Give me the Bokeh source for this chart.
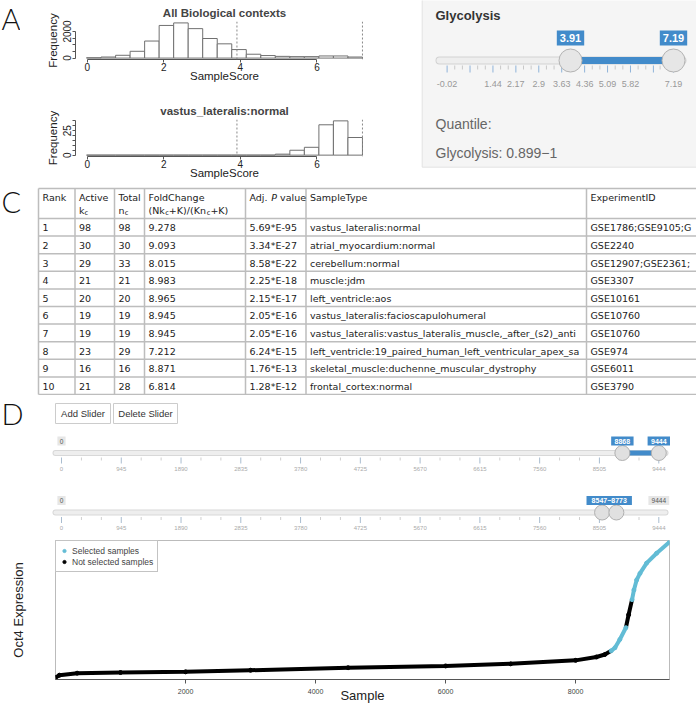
import re
import numpy as np
from bokeh.plotting import figure
from bokeh.models import Range1d, ColumnDataSource, Span, FixedTicker, Legend, LegendItem
from bokeh.layouts import row, column
from bokeh.embed import file_html
from bokeh.resources import INLINE
from bokeh.core.properties import value, field

# ======================= DATA =======================
# Panel A: SampleScore histograms
score_range = [-0.02, 7.19]
n_bins = 19
all_contexts_counts = [25, 80, 210, 510, 1280, 2450, 2640, 2210, 1470, 1070,
                       640, 290, 190, 130, 110, 110, 160, 160, 80]
vastus_counts = [0, 0, 0, 0, 0, 0, 0, 0, 0, 0, 0, 0, 0, 1, 5, 8, 31, 35, 18]
hist_titles = ["All Biological contexts", "vastus_lateralis:normal"]
score_xticks = [0, 2, 4, 6]
hist1_yticks = [0, 500, 1000, 1500, 2000]
hist1_ylabels = ["0", "", "", "", "2000"]
hist2_yticks = [0, 5, 10, 15, 20, 25, 30, 35]
hist2_ylabels = ["0", "", "", "", "", "25", "", ""]

# Panel B: pathway slider
pathway = "Glycolysis"
glyc_selection = [3.91, 7.19]
glyc_grid = [-0.02, 0.71, 1.44, 2.17, 2.9, 3.63, 4.36, 5.09, 5.82, 6.55, 7.19]
glyc_grid_labels = ["-0.02", "", "1.44", "2.17", "2.9", "3.63", "4.36", "5.09", "5.82", "", "7.19"]
quantile_range = ["0.899", "1"]

# Panel C: enrichment table
header_line1 = ["Rank", "Active", "Total", "FoldChange", "Adj. {i:P} value", "SampleType", "ExperimentID"]
header_line2 = ["", "k{s:c}", "n{s:c}", "(Nk{s:c}+K)/(Kn{s:c}+K)", "", "", ""]
rank = [1, 2, 3, 4, 5, 6, 7, 8, 9, 10]
active_kc = [98, 30, 29, 21, 20, 19, 19, 23, 16, 21]
total_nc = [98, 30, 33, 21, 20, 19, 19, 29, 16, 28]
fold_change = [9.278, 9.093, 8.015, 8.983, 8.965, 8.945, 8.945, 7.212, 8.871, 6.814]
adj_p = ["5.69*E-95", "3.34*E-27", "8.58*E-22", "2.25*E-18", "2.15*E-17",
         "2.05*E-16", "2.05*E-16", "6.24*E-15", "1.76*E-13", "1.28*E-12"]
sample_type = ["vastus_lateralis:normal", "atrial_myocardium:normal", "cerebellum:normal",
               "muscle:jdm", "left_ventricle:aos", "vastus_lateralis:facioscapulohumeral",
               "vastus_lateralis:vastus_lateralis_muscle,_after_(s2)_antib",
               "left_ventricle:19_paired_human_left_ventricular_apex_sam",
               "skeletal_muscle:duchenne_muscular_dystrophy", "frontal_cortex:normal"]
experiment_id = ["GSE1786;GSE9105;GSE", "GSE2240", "GSE12907;GSE2361;GSE", "GSE3307",
                 "GSE10161", "GSE10760", "GSE10760", "GSE974", "GSE6011", "GSE3790"]

# Panel D: sample sliders and Oct4 curve
buttons = ["Add Slider", "Delete Slider"]
n_samples = 9444
sample_grid = [0, 945, 1890, 2835, 3780, 4725, 5670, 6615, 7560, 8505, 9444]
slider_ranges = [[8868, 9444], [8547, 8773]]
curve_sample = [0, 60, 333, 1000, 2000, 3000, 4500, 6000, 7000, 8000, 8320, 8450,
                8547, 8605, 8680, 8773, 8815, 8868, 8897, 8939, 8990, 9092, 9246, 9444]
curve_expr = [3.88, 4.05, 4.20, 4.25, 4.30, 4.42, 4.61, 4.74, 4.90, 5.16, 5.41, 5.60,
              5.87, 6.10, 6.72, 7.60, 8.57, 9.70, 10.42, 11.17, 11.66, 12.43, 13.17, 14.00]
scatter_xticks = [2000, 4000, 6000, 8000]
legend_labels = ["Selected samples", "Not selected samples"]

# ======================= STYLE =======================
SANS = "Liberation Sans"
TABLE_FONT = "DejaVu Sans"
LETTER_FONT = "Lato Light, Lato, sans-serif"
BLUE = "#428bca"
CYAN = "#62bcd5"
W_TOTAL = 696


def blank_fig(w, h):
    p = figure(width=w, height=h, x_range=Range1d(0, w), y_range=Range1d(h, 0),
               x_axis_type=None, y_axis_type=None, toolbar_location=None,
               output_backend="svg", min_border=0)
    p.outline_line_color = None
    return p


def letter(p, x, y, ch):
    p.text(x=[x], y=[y], text=[ch], text_font=value(LETTER_FONT), text_font_size="29px",
           text_color="#111111", text_baseline="middle", text_align="left")


# ======================= PANEL A =======================
edges = np.linspace(score_range[0], score_range[1], n_bins + 1)
sspan = score_range[1] - score_range[0]
hx = (score_range[0] - 0.04 * sspan, score_range[1] + 0.04 * sspan)


def hist_fig(title, counts, yticks, ylabels, height, top, bottom):
    cmax = max(counts)
    p = figure(width=398, height=height, x_range=Range1d(*hx),
               y_range=Range1d(-0.04 * cmax, 1.04 * cmax),
               toolbar_location=None, output_backend="svg",
               min_border_left=55, min_border_right=45,
               min_border_top=top, min_border_bottom=bottom, title=title)
    p.quad(left=edges[:-1], right=edges[1:], bottom=0, top=counts,
           fill_color="white", line_color="#707070", line_width=1)
    for v in glyc_selection:
        p.add_layout(Span(location=v, dimension="height", line_color="#888888",
                          line_dash="2 2", line_width=1))
    p.title.text_font = SANS
    p.title.text_font_style = "bold"
    p.title.text_font_size = "11.5px"
    p.title.align = "center"
    p.title.standoff = 5
    p.outline_line_color = None
    p.xgrid.visible = False
    p.ygrid.visible = False
    p.xaxis.ticker = FixedTicker(ticks=score_xticks)
    p.xaxis.bounds = (score_xticks[0], score_xticks[-1])
    p.xaxis.axis_label = "SampleScore"
    p.yaxis.ticker = FixedTicker(ticks=yticks)
    p.yaxis.major_label_overrides = {t: l for t, l in zip(yticks, ylabels)}
    p.yaxis.bounds = (yticks[0], yticks[-1])
    p.yaxis.axis_label = "Frequency"
    p.yaxis.major_label_orientation = "vertical"
    for ax in (p.xaxis, p.yaxis):
        ax.axis_line_color = "#555555"
        ax.major_tick_line_color = "#555555"
        ax.minor_tick_line_color = None
        ax.major_tick_out = 3
        ax.major_tick_in = 0
        ax.major_label_text_font = SANS
        ax.major_label_text_font_size = "10px"
        ax.major_label_text_color = "#222222"
        ax.axis_label_text_font = SANS
        ax.axis_label_text_font_size = "11.5px"
        ax.axis_label_text_font_style = "normal"
        ax.axis_label_text_color = "#222222"
    p.xaxis.major_label_standoff = 0
    p.xaxis.axis_label_standoff = -4
    p.yaxis.major_label_standoff = 1
    p.yaxis.axis_label_standoff = 2
    return p


H1, H2 = 90, 92
h1 = hist_fig(hist_titles[0], all_contexts_counts, hist1_yticks, hist1_ylabels, H1, 21, 31)
h2 = hist_fig(hist_titles[1], vastus_counts, hist2_yticks, hist2_ylabels, H2, 29, 26)
HROW1 = H1 + H2

pA = blank_fig(20, HROW1)
letter(pA, 1, 18, "A")

# ======================= PANEL B =======================
WB = 278
pB = blank_fig(WB, HROW1)
gmin, gmax = glyc_grid[0], glyc_grid[-1]
px_min, px_max = 28.6, 255.0
gscale = (px_max - px_min) / (gmax - gmin)
pB.extra_x_ranges = {"v": Range1d(gmin - px_min / gscale, gmax + (WB - px_max) / gscale)}

pB.quad(left=[3.7], right=[WB + 10], top=[-2], bottom=[166.7],
        fill_color="#f5f5f5", line_color="#e3e3e3")
pB.text(x=[17], y=[15], text=[pathway], text_font=value(SANS), text_font_style="bold",
        text_font_size="13px", text_color="#333333", text_baseline="middle")
TY = 60
pB.segment(x0=[21], x1=[264], y0=[TY], y1=[TY], line_width=8, line_color="#d3d3d3", line_cap="round")
pB.segment(x0=[21], x1=[264], y0=[TY], y1=[TY], line_width=6, line_color="#eeeeee", line_cap="round")
pB.segment(x0=[glyc_selection[0]], x1=[glyc_selection[1]], y0=[TY], y1=[TY],
           line_width=7, line_color=BLUE, x_range_name="v")
minor_g = []
for a, b in zip(glyc_grid[:-1], glyc_grid[1:]):
    minor_g += [a + (b - a) / 3, a + 2 * (b - a) / 3]
pB.segment(x0=minor_g, x1=minor_g, y0=[TY + 5] * len(minor_g), y1=[TY + 9] * len(minor_g),
           line_color="#c8c8c8", line_width=1, x_range_name="v")
pB.segment(x0=glyc_grid, x1=glyc_grid, y0=[TY + 5] * len(glyc_grid), y1=[TY + 12] * len(glyc_grid),
           line_color="#8fb3d9", line_width=1, x_range_name="v")
pB.text(x=glyc_grid, y=[TY + 23.5] * len(glyc_grid), text=glyc_grid_labels,
        text_font=value(SANS), text_font_size="9px", text_color="#999999",
        text_align="center", text_baseline="middle", x_range_name="v")
pB.scatter(x=glyc_selection, y=[TY, TY], size=23, marker="circle",
           fill_color="#e6e6e6", line_color="#b3b3b3", line_width=1, x_range_name="v")
sel_txt = [f"{v:.2f}" for v in glyc_selection]
pB.rect(x=glyc_selection, y=[TY - 22.5] * 2, width=[5.6 * len(t) + 5 for t in sel_txt], height=15,
        width_units="screen", height_units="screen", fill_color=BLUE, line_color=None,
        x_range_name="v")
pB.text(x=glyc_selection, y=[TY - 22.5] * 2, text=sel_txt, text_font=value(SANS),
        text_font_style="bold", text_font_size="11px", text_color="white",
        text_align="center", text_baseline="middle", x_range_name="v")
pB.text(x=[17, 17], y=[123, 152],
        text=["Quantile:", f"{pathway}: {quantile_range[0]}\u2212{quantile_range[1]}"],
        text_font=value(SANS), text_font_size="14px", text_color="#666666",
        text_baseline="middle")

row1 = row(pA, column(h1, h2), pB)

# ======================= PANEL C (table) =======================
DJ = {' ': 651, '!': 821, '(': 799, ')': 799, '*': 1024, '+': 1716, ',': 651, '-': 739,
      '.': 651, '/': 690, ':': 690, ';': 690, '_': 1024,
      'A': 1401, 'B': 1405, 'C': 1430, 'D': 1577, 'E': 1294, 'F': 1178, 'G': 1589,
      'H': 1540, 'I': 604, 'J': 604, 'K': 1343, 'L': 1136, 'M': 1767, 'N': 1532,
      'O': 1612, 'P': 1235, 'Q': 1612, 'R': 1423, 'S': 1300, 'T': 1251, 'U': 1499,
      'V': 1401, 'W': 2025, 'X': 1403, 'Y': 1251, 'Z': 1403,
      'a': 1255, 'b': 1300, 'c': 1126, 'd': 1300, 'e': 1260, 'f': 721, 'g': 1300,
      'h': 1298, 'i': 569, 'j': 569, 'k': 1186, 'l': 569, 'm': 1995, 'n': 1298,
      'o': 1253, 'p': 1300, 'q': 1300, 'r': 842, 's': 1067, 't': 803, 'u': 1298,
      'v': 1212, 'w': 1675, 'x': 1212, 'y': 1212, 'z': 1075}


def tw(s, size):
    return sum(DJ.get(ch, 1303) for ch in s) / 2048.0 * size * 1.02


FS = 9.5
HC = 213
col_edges = [38, 74.5, 114, 144, 245, 305.5, 586, 702]
TBL_TOP, HDR_BOT, ROW_H = 6, 36, 17.6
n_rows = len(rank)
tbl_bot = HDR_BOT + ROW_H * n_rows

pC = blank_fig(W_TOTAL, HC)
letter(pC, 1, 19, "C")
hy = [TBL_TOP, HDR_BOT] + [HDR_BOT + ROW_H * (i + 1) for i in range(n_rows)]
pC.segment(x0=[col_edges[0]] * len(hy), x1=[col_edges[-1]] * len(hy), y0=hy, y1=hy,
           line_color="#bdbdbd", line_width=1.5)
pC.segment(x0=col_edges, x1=col_edges, y0=[TBL_TOP] * len(col_edges), y1=[tbl_bot] * len(col_edges),
           line_color="#bdbdbd", line_width=1.5)

TOK = re.compile(r"\{([is]):([^}]*)\}")


def rich_segments(s):
    segs, pos = [], 0
    for m in TOK.finditer(s):
        if m.start() > pos:
            segs.append(("n", s[pos:m.start()]))
        segs.append((m.group(1), m.group(2)))
        pos = m.end()
    if pos < len(s):
        segs.append(("n", s[pos:]))
    return segs


tx, ty, tt, tsz, tst = [], [], [], [], []


def add_rich(x, y, s):
    for kind, txt in rich_segments(s):
        size = FS * 0.7 if kind == "s" else FS
        lead = len(txt) - len(txt.lstrip(" "))
        x += tw(" " * lead, size)
        core = txt.strip(" ")
        if core:
            tx.append(x)
            ty.append(y + (2.6 if kind == "s" else 0))
            tt.append(core)
            tsz.append(f"{size:.2f}px")
            tst.append("italic" if kind == "i" else "normal")
        x += tw(txt.lstrip(" "), size)


for j in range(len(header_line1)):
    add_rich(col_edges[j] + 4, TBL_TOP + 9, header_line1[j])
    if header_line2[j]:
        add_rich(col_edges[j] + 4, TBL_TOP + 22, header_line2[j])

cols = [[str(r) for r in rank], [str(a) for a in active_kc], [str(t) for t in total_nc],
        [f"{f:.3f}" for f in fold_change], adj_p, sample_type, experiment_id]
for j, colvals in enumerate(cols):
    right = min(col_edges[j + 1], W_TOTAL)
    avail = right - col_edges[j] - 5
    for i, s in enumerate(colvals):
        while tw(s, FS) > avail and len(s) > 1:
            s = s[:-1]
        add_rich(col_edges[j] + 4, HDR_BOT + ROW_H * (i + 0.5) + 0.5, s)

pC.text(source=ColumnDataSource(dict(x=tx, y=ty, t=tt, sz=tsz, st=tst)),
        x="x", y="y", text="t", text_font=value(TABLE_FONT), text_font_size=field("sz"),
        text_font_style=field("st"), text_color="#222222", text_baseline="middle",
        text_align="left")

# ======================= PANEL D (controls) =======================
HD = 143
pD = blank_fig(W_TOTAL, HD)
s0_px, s1_px = 61.0, 658.3
sscale = (s1_px - s0_px) / n_samples
pD.extra_x_ranges = {"s": Range1d(-s0_px / sscale, n_samples + (W_TOTAL - s1_px) / sscale)}
letter(pD, 1, 18, "D")

btn_x = [[55, 110], [113, 177]]
pD.quad(left=[b[0] for b in btn_x], right=[b[1] for b in btn_x], top=[8, 8], bottom=[28, 28],
        fill_color="white", line_color="#cccccc", line_width=1)
pD.text(x=[(b[0] + b[1]) / 2 for b in btn_x], y=[18, 18], text=buttons,
        text_font=value(SANS), text_font_size="9.5px", text_color="#333333",
        text_align="center", text_baseline="middle")

minor_s = []
for a, b in zip(sample_grid[:-1], sample_grid[1:]):
    minor_s += [a + (b - a) / 3, a + 2 * (b - a) / 3]

for j, (lo, hi) in enumerate(slider_ranges):
    y = [57.5, 117][j]
    ly = y - 12
    pD.segment(x0=[55], x1=[665], y0=[y], y1=[y], line_width=6, line_color="#d8d8d8", line_cap="round")
    pD.segment(x0=[55], x1=[665], y0=[y], y1=[y], line_width=4, line_color="#eeeeee", line_cap="round")
    pD.segment(x0=[lo], x1=[hi], y0=[y], y1=[y], line_width=5, line_color=BLUE, x_range_name="s")
    pD.segment(x0=minor_s, x1=minor_s, y0=[y + 4.5] * len(minor_s), y1=[y + 7.5] * len(minor_s),
               line_color="#cfcfcf", line_width=1, x_range_name="s")
    pD.segment(x0=sample_grid, x1=sample_grid, y0=[y + 4.5] * len(sample_grid),
               y1=[y + 10.5] * len(sample_grid), line_color="#a9bccf", line_width=1, x_range_name="s")
    pD.text(x=sample_grid, y=[y + 15.5] * len(sample_grid), text=[str(v) for v in sample_grid],
            text_font=value(SANS), text_font_size="6px", text_color="#aaaaaa",
            text_align="center", text_baseline="middle", x_range_name="s")
    pD.scatter(x=[lo, hi], y=[y, y], size=15, marker="circle", fill_color="#e0e0e0",
               line_color="#b0b0b0", line_width=1, x_range_name="s")
    if (hi - lo) * sscale < 30:
        vx, vt = [(lo + hi) / 2], [f"{lo}\u2212{hi}"]
    else:
        vx, vt = [lo, hi], [str(lo), str(hi)]
    pD.rect(x=vx, y=[ly] * len(vx), width=[4.6 * len(t) + 4 for t in vt], height=9,
            width_units="screen", height_units="screen", fill_color=BLUE, line_color=None,
            x_range_name="s")
    pD.text(x=vx, y=[ly] * len(vx), text=vt, text_font=value(SANS), text_font_style="bold",
            text_font_size="7px", text_color="white", text_align="center",
            text_baseline="middle", x_range_name="s")
    gx, gt = [], []
    if lo * sscale > 30:
        gx.append(0); gt.append(str(0))
    if (n_samples - hi) * sscale > 30:
        gx.append(n_samples); gt.append(str(n_samples))
    if gx:
        pD.rect(x=gx, y=[ly] * len(gx), width=[4.2 * len(t) + 4 for t in gt], height=9,
                width_units="screen", height_units="screen", fill_color="#e6e6e6",
                line_color=None, x_range_name="s")
        pD.text(x=gx, y=[ly] * len(gx), text=gt, text_font=value(SANS), text_font_size="6.5px",
                text_color="#555555", text_align="center", text_baseline="middle",
                x_range_name="s")

# ======================= PANEL D (scatter) =======================
emin, emax = min(curve_expr), max(curve_expr)
erng = emax - emin
pS = figure(width=W_TOTAL, height=167, x_range=Range1d(0, n_samples),
            y_range=Range1d(emin - 0.015 * erng, emax + 0.012 * erng),
            toolbar_location=None, output_backend="svg",
            min_border_left=55, min_border_right=27, min_border_top=2, min_border_bottom=26)


def is_sel(s):
    return any(lo <= s <= hi for lo, hi in slider_ranges)


groups = {True: ([], []), False: ([], [])}
cur_state, cx, cy = None, [], []
for i in range(len(curve_sample) - 1):
    st = is_sel((curve_sample[i] + curve_sample[i + 1]) / 2)
    if st != cur_state:
        if cx:
            groups[cur_state][0].append(cx)
            groups[cur_state][1].append(cy)
        cx, cy, cur_state = [curve_sample[i]], [curve_expr[i]], st
    cx.append(curve_sample[i + 1])
    cy.append(curve_expr[i + 1])
groups[cur_state][0].append(cx)
groups[cur_state][1].append(cy)

pS.multi_line(groups[False][0], groups[False][1], line_width=4, line_color="black")
pS.multi_line(groups[True][0], groups[True][1], line_width=4, line_color=CYAN)
sel_x = [s for s in curve_sample if is_sel(s)]
sel_y = [e for s, e in zip(curve_sample, curve_expr) if is_sel(s)]
not_x = [s for s in curve_sample if not is_sel(s)]
not_y = [e for s, e in zip(curve_sample, curve_expr) if not is_sel(s)]
r_not = pS.scatter(not_x, not_y, size=4, marker="circle", color="black")
r_sel = pS.scatter(sel_x, sel_y, size=4, marker="circle", color=CYAN)

legend = Legend(items=[LegendItem(label=legend_labels[0], renderers=[r_sel]),
                       LegendItem(label=legend_labels[1], renderers=[r_not])],
                location="top_left", border_line_color="#888888", border_line_width=1,
                margin=0, padding=4, spacing=0, label_text_font=SANS,
                label_text_font_size="8.5px", glyph_width=8, glyph_height=11,
                label_height=11, label_standoff=4, background_fill_alpha=1.0)
pS.add_layout(legend)

pS.outline_line_color = "#bbbbbb"
pS.xgrid.visible = False
pS.ygrid.visible = False
pS.xaxis.ticker = FixedTicker(ticks=scatter_xticks)
pS.xaxis.axis_line_color = "#555555"
pS.xaxis.major_tick_line_color = "#555555"
pS.xaxis.minor_tick_line_color = None
pS.xaxis.major_tick_out = 4
pS.xaxis.major_tick_in = 0
pS.xaxis.major_label_standoff = 5
pS.xaxis.major_label_text_font = SANS
pS.xaxis.major_label_text_font_size = "7px"
pS.xaxis.major_label_text_color = "#444444"
pS.xaxis.axis_label = "Sample"
pS.xaxis.axis_label_text_font = SANS
pS.xaxis.axis_label_text_font_size = "13px"
pS.xaxis.axis_label_text_font_style = "normal"
pS.xaxis.axis_label_text_color = "#222222"
pS.xaxis.axis_label_standoff = -9
pS.yaxis.ticker = FixedTicker(ticks=[])
pS.yaxis.axis_line_color = None
pS.yaxis.major_tick_line_color = None
pS.yaxis.minor_tick_line_color = None
pS.yaxis.major_label_text_font_size = "0px"
pS.yaxis.axis_label = "Oct4 Expression"
pS.yaxis.axis_label_text_font = SANS
pS.yaxis.axis_label_text_font_size = "13px"
pS.yaxis.axis_label_text_font_style = "normal"
pS.yaxis.axis_label_text_color = "#222222"
pS.yaxis.axis_label_standoff = 30

layout = column(row1, pC, pD, row(pS))
open("out.html", "w").write(file_html(layout, INLINE))
